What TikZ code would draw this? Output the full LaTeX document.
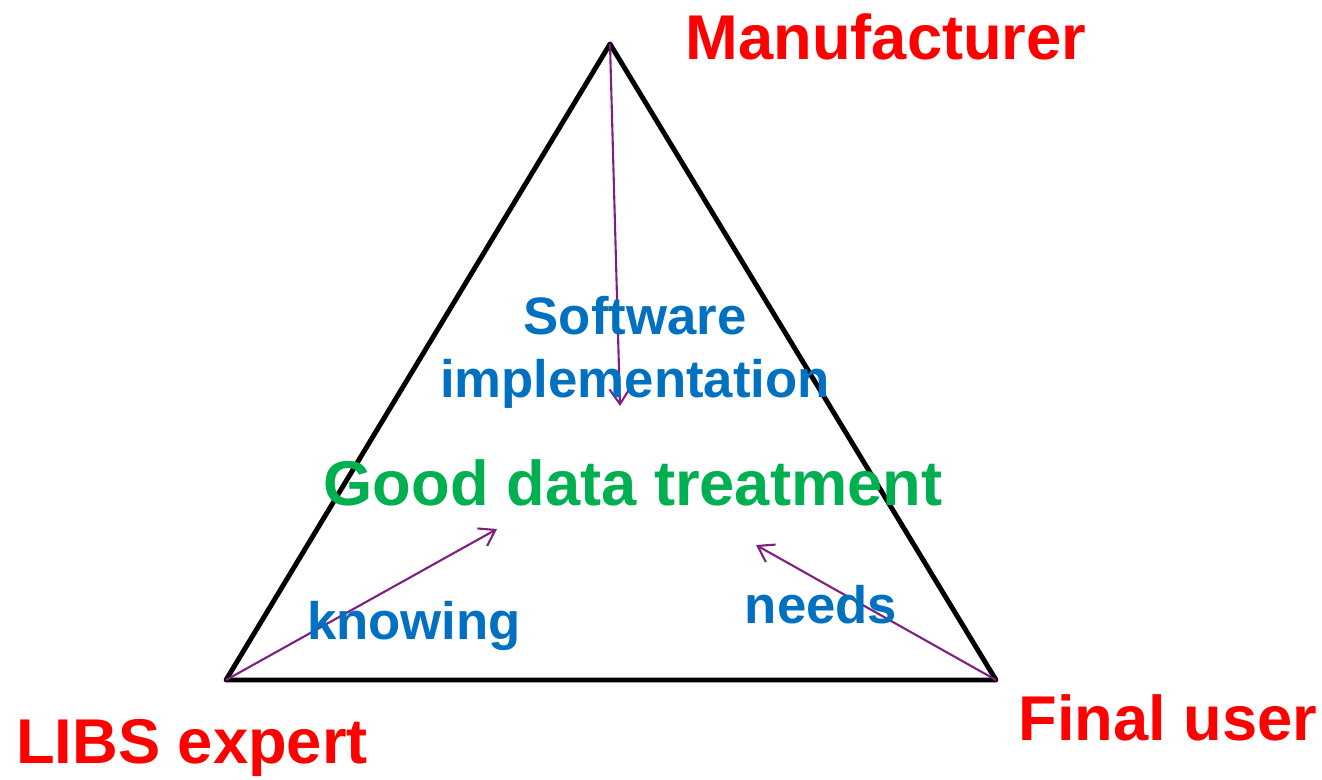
\documentclass[tikz,border=0pt]{standalone}
\usepackage{fontspec}
\setmainfont{Liberation Sans}
\usetikzlibrary{arrows.meta}
\definecolor{actorred}{HTML}{FF0000}
\definecolor{goalgreen}{HTML}{00B050}
\definecolor{linkblue}{HTML}{0070C0}
\definecolor{arrowpurple}{HTML}{7F1F7F}
\begin{document}
\begin{tikzpicture}[
  actor/.style={text=actorred,font=\fontsize{18}{22}\selectfont\bfseries,inner sep=0pt},
  goal/.style={text=goalgreen,font=\fontsize{18}{22}\selectfont\bfseries,inner sep=0pt},
  link/.style={text=linkblue,font=\fontsize{15}{17.9}\selectfont\bfseries,inner sep=0pt,align=center},
  flow/.style={-{Straight Barb[length=1.5mm,width=2mm]},draw=arrowpurple,line width=0.6pt},
  side/.style={line width=1.4pt,line join=round}
]
  \useasboundingbox (0,0) rectangle (13.22,7.79);

  \coordinate (top) at (6.10,7.35);
  \coordinate (left) at (2.26,0.99);
  \coordinate (right) at (9.96,0.99);
  \draw[side] (top) -- (right) -- (left) -- cycle;

  \coordinate (impl) at (6.20,3.73);
  \coordinate (know) at (4.97,2.50);
  \coordinate (need) at (7.56,2.34);
  \draw[flow] (top) -- (impl);
  \draw[flow] (left) -- (know);
  \draw[flow] (right) -- (need);

  \node[actor] (maker) at (8.86,7.42) {Manufacturer};
  \node[actor] (expert) at (1.92,0.31) {LIBS expert};
  \node[actor] (user) at (11.68,0.61) {Final user};

  \node[goal] (treat) at (6.33,2.96) {Good data treatment};

  \node[link] (soft) at (6.35,4.27) {Software\\implementation};
  \node[link] (knowing) at (4.14,1.53) {knowing};
  \node[link] (needs) at (8.21,1.74) {needs};
\end{tikzpicture}
\end{document}
